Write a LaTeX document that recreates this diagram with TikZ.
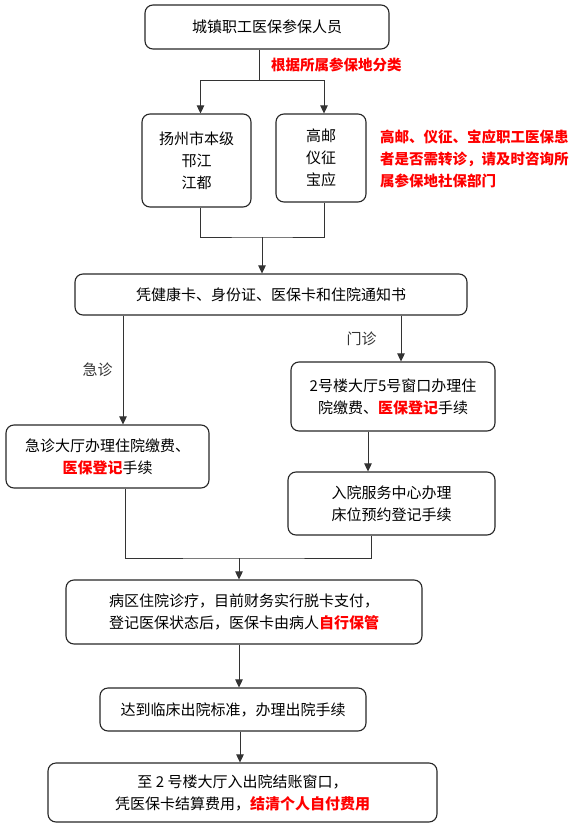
\documentclass[tikz,border=0pt]{standalone}
\usepackage{fontspec}
\setmainfont{Noto Sans CJK SC}
\usepackage{tikz}
\usetikzlibrary{arrows.meta,calc}
\tikzset{
  box/.style={draw=black!85,line width=1.1pt,rounded corners=8pt,inner sep=0pt,align=center,
              font=\fontsize{15}{22}\selectfont},     % flow box
  link/.style={black!80,line width=0.8pt},             % plain connector
  arr/.style={link,-{Triangle[length=8pt,width=7.5pt]}},
  note/.style={text=red,font=\fontsize{14.5}{22}\selectfont\bfseries,align=left,inner sep=0pt},
  lab/.style={font=\fontsize{15}{22}\selectfont,inner sep=0pt},
}
\newcommand{\redb}[1]{\textcolor{red}{\bfseries #1}}

\begin{document}
\begin{tikzpicture}[x=1pt,y=-1pt]
  \useasboundingbox (0,0) rectangle (577,829);
  % boxes
  \node[box,minimum width=244,minimum height=44] (top) at (267,27) {城镇职工医保参保人员};
  \node[box,minimum width=109,minimum height=93] (yz) at (196.5,160.5) {扬州市本级\\邗江\\江都};
  \node[box,minimum width=90,minimum height=88] (gy) at (321,158) {高邮\\仪征\\宝应};
  \node[box,minimum width=392,minimum height=41] (docs) at (271,294.5) {凭健康卡、身份证、医保卡和住院通知书};
  \node[box,minimum width=203,minimum height=63] (emg) at (107.5,456.5) {急诊大厅办理住院缴费、\\\redb{医保登记}手续};
  \node[box,minimum width=204,minimum height=69] (opd) at (393,396.5) {2号楼大厅5号窗口办理住\\院缴费、\redb{医保登记}手续};
  \node[box,minimum width=207,minimum height=63] (bed) at (391.5,503.5) {入院服务中心办理\\床位预约登记手续};
  \node[box,minimum width=356,minimum height=64] (ward) at (244,612) {病区住院诊疗，目前财务实行脱卡支付，\\登记医保状态后，医保卡由病人\redb{自行保管}};
  \node[box,minimum width=266,minimum height=43] (disc) at (233,709.5) {达到临床出院标准，办理出院手续};
  \node[box,minimum width=389,minimum height=59] (settle) at (242.5,792.5) {至 2 号楼大厅入出院结账窗口，\\凭医保卡结算费用，\redb{结清个人自付费用}};
  % notes
  \node[note,anchor=west] (sort) at (271,65) {根据所属参保地分类};
  \node[note,anchor=west] (ask) at (380,159) {高邮、仪征、宝应职工医保患\\者是否需转诊，请及时咨询所\\属参保地社保部门};
  % connectors
  \coordinate (s1) at (259,80);
  \draw[link] (top.south -| s1) -- (s1);
  \draw[arr] (s1) -| ([xshift=4]yz.north);
  \draw[arr] (s1) -| ([xshift=3]gy.north);
  \coordinate (m1) at (262,237);
  \draw[link] ([xshift=4]yz.south) |- (m1) -| ([xshift=3]gy.south);
  \draw[arr] (m1) -- (m1 |- docs.north);
  \draw[arr] ([xshift=15.5]emg.north |- docs.south) -- ([xshift=15.5]emg.north)
    node[lab,midway,left=10pt] {急诊};
  \draw[arr] ([xshift=8]opd.north |- docs.south) -- ([xshift=8]opd.north)
    node[lab,midway,left=24pt] {门诊};
  \draw[arr] ([xshift=-25]opd.south) -- ([xshift=-25]opd.south |- bed.north);
  \coordinate (m2) at (239,558);
  \draw[link] ([xshift=17.5]emg.south) |- (m2) -| ([xshift=-20.5]bed.south);
  \draw[arr] (m2) -- (m2 |- ward.north);
  \draw[arr] ([xshift=-5]ward.south) -- ([xshift=-5]ward.south |- disc.north);
  \draw[arr] ([xshift=7]disc.south) -- ([xshift=7]disc.south |- settle.north);
\end{tikzpicture}
\end{document}
